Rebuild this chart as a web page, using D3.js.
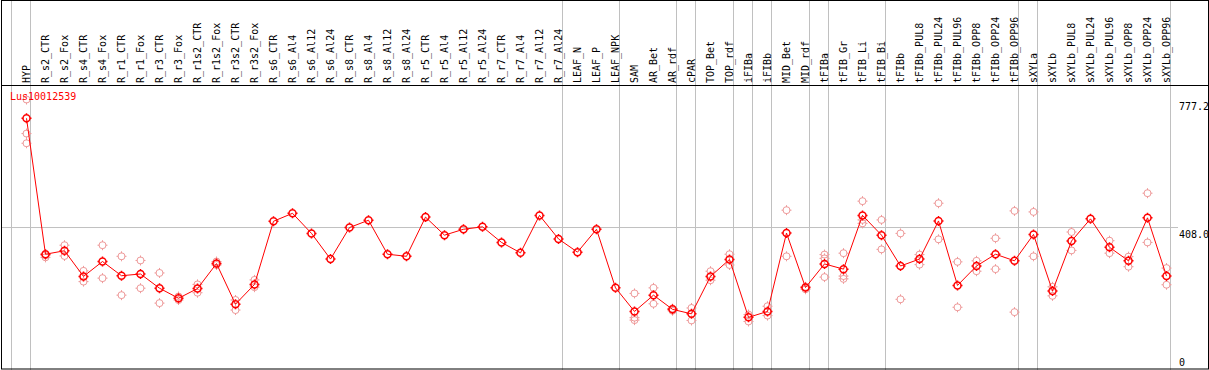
<!DOCTYPE html>
<html>
<head>
<meta charset="utf-8">
<script src="https://d3js.org/d3.v7.min.js"></script>
<style>
  body { margin: 0; background: #fff; }
  svg text { font-family: "DejaVu Sans Mono", monospace; font-size: 10px; }
</style>
</head>
<body>
<svg width="1209" height="370"></svg>

<script>
  const geneName = 'Lus10012539';

  const categories = ['HYP','R_s2_CTR','R_s2_Fox','R_s4_CTR','R_s4_Fox','R_r1_CTR','R_r1_Fox','R_r3_CTR','R_r3_Fox',
    'R_r1s2_CTR','R_r1s2_Fox','R_r3s2_CTR','R_r3s2_Fox','R_s6_CTR','R_s6_Al4','R_s6_Al12','R_s6_Al24',
    'R_s8_CTR','R_s8_Al4','R_s8_Al12','R_s8_Al24','R_r5_CTR','R_r5_Al4','R_r5_Al12','R_r5_Al24',
    'R_r7_CTR','R_r7_Al4','R_r7_Al12','R_r7_Al24','LEAF_N','LEAF_P','LEAF_NPK','SAM','AR_Bet','AR_rdf',
    'cPAR','TOP_Bet','TOP_rdf','iFIBa','iFIBb','MID_Bet','MID_rdf','tFIBa','tFIB_Gr','tFIB_Li','tFIB_Bi',
    'tFIBb','tFIBb_PUL8','tFIBb_PUL24','tFIBb_PUL96','tFIBb_OPP8','tFIBb_OPP24','tFIBb_OPP96',
    'sXYLa','sXYLb','sXYLb_PUL8','sXYLb_PUL24','sXYLb_PUL96','sXYLb_OPP8','sXYLb_OPP24','sXYLb_OPP96'];

  // mean expression per sample
  const means = [723, 331, 341, 267, 310, 269, 274, 233, 204,
    232, 304, 187, 244, 426, 449, 391, 317,
    408, 429, 331, 325, 438, 386, 403, 410,
    365, 335, 443, 375, 337, 403, 234, 166, 213, 172,
    159, 267, 316, 149, 166, 392, 235, 303, 288, 443, 386,
    297, 317, 427, 241, 297, 331, 312,
    388, 225, 369, 433, 351, 312, 436, 268];

  // individual replicates
  const replicates = [
    [777.2, 679, 651], [328, 322], [357, 326], [283, 252], [357, 262], [325, 213], [313, 233], [277, 190], [209, 199],
    [244, 220], [310, 300], [199, 170], [257, 236], [], [], [], [],
    [], [], [], [], [], [], [], [],
    [], [], [], [], [], [], [], [218, 148, 141], [234, 188], [174, 168],
    [176, 140], [282, 256], [331, 300], [157, 137], [181, 154], [458, 325], [237, 230], [330, 319, 265], [334, 268, 260], [484, 420, 430], [430, 345],
    [391, 201], [330, 301], [478, 374], [309, 178], [312, 282], [377, 288], [456, 164],
    [453, 325], [237, 211], [395, 342], [], [370, 334], [324, 295], [507, 365], [291, 243]];

  // last sample of each group (a grey line is drawn just after it)
  const separatorAfter = ['HYP','R_r7_Al24','LEAF_NPK','AR_rdf','cPAR','TOP_rdf','iFIBa','iFIBb',
    'MID_rdf','tFIBa','tFIB_Bi','tFIBb_OPP96','sXYLa','sXYLb_OPP96'];

  const yTicks = [0, 408.0, 777.2];

  const svg = d3.select('svg');
  const width = +svg.attr('width');
  const height = +svg.attr('height');
  const headerY = 85.5;

  const x = d3.scalePoint().domain(categories).range([26.5, 1166.5]);
  const y = d3.scaleLinear().domain([0, 777.2]).range([369, 99.5]);
  const step = x.step();

  const grey = '#c0c0c0';
  const pink = '#ee9a9a';

  // separators
  const sepX = [x(categories[0]) - step + 4].concat(separatorAfter.map(c => x(c) + 4));
  svg.selectAll('line.sep').data(sepX)
    .enter().append('line')
    .attr('class', 'sep')
    .attr('x1', d => d).attr('x2', d => d)
    .attr('y1', 0).attr('y2', height)
    .attr('stroke', grey);

  // grid line at the middle tick
  svg.append('line')
    .attr('x1', 1).attr('x2', 1178)
    .attr('y1', y(yTicks[1])).attr('y2', y(yTicks[1]))
    .attr('stroke', grey);

  // frame
  svg.append('rect')
    .attr('x', 1.5).attr('y', 0.5)
    .attr('width', width - 2).attr('height', 368.5)
    .attr('fill', 'none').attr('stroke', '#000');
  svg.append('line')
    .attr('x1', 1).attr('x2', width)
    .attr('y1', headerY).attr('y2', headerY)
    .attr('stroke', '#000');

  // sample names
  svg.selectAll('text.cat').data(categories)
    .enter().append('text')
    .attr('class', 'cat')
    .attr('transform', d => `translate(${x(d) + 3.5},83) rotate(-90)`)
    .attr('fill', '#000')
    .text(d => d);

  // right axis labels
  svg.selectAll('text.tick').data(yTicks)
    .enter().append('text')
    .attr('class', 'tick')
    .attr('x', 1179)
    .attr('y', d => d === 0 ? y(d) - 3.5 : y(d) + 10)
    .attr('fill', '#000')
    .text(d => d === 0 ? '0' : d.toFixed(1));

  // marker: circle with four little ticks
  const r = 3.5;
  const marker = `M${-r},0a${r},${r} 0 1,0 ${2*r},0a${r},${r} 0 1,0 ${-2*r},0`
    + `M0,${-r-1.5}V${-r+0.5}M0,${r-0.5}V${r+1.5}M${-r-1.5},0H${-r+0.5}M${r-0.5},0H${r+1.5}`;

  const repPoints = [];
  replicates.forEach((reps, i) => reps.forEach(v => repPoints.push({c: categories[i], v})));

  svg.selectAll('path.rep').data(repPoints)
    .enter().append('path')
    .attr('class', 'rep')
    .attr('transform', d => `translate(${x(d.c)},${y(d.v)})`)
    .attr('d', marker)
    .attr('fill', 'none')
    .attr('stroke', pink);

  const line = d3.line()
    .x((d, i) => x(categories[i]))
    .y(d => y(d));

  svg.append('path')
    .datum(means)
    .attr('d', line)
    .attr('fill', 'none')
    .attr('stroke', 'red');

  svg.selectAll('path.mean').data(means)
    .enter().append('path')
    .attr('class', 'mean')
    .attr('transform', (d, i) => `translate(${x(categories[i])},${y(d)})`)
    .attr('d', marker)
    .attr('fill', 'none')
    .attr('stroke', 'red')
    .attr('stroke-width', 1.5);

  svg.append('text')
    .attr('x', 10).attr('y', 100)
    .attr('fill', 'red')
    .text(geneName);
</script>
</body>
</html>
